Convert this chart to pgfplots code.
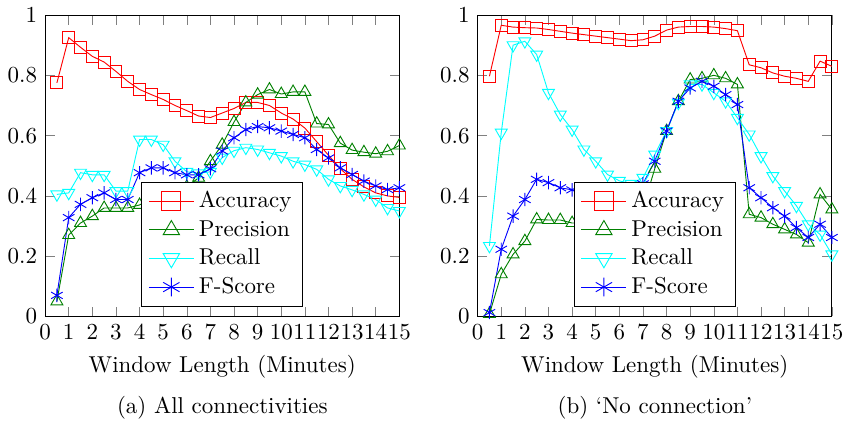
\documentclass[border=0pt]{standalone}
\usepackage{pgfplots}
\pgfplotsset{compat=1.18}

\definecolor{accred}{rgb}{1,0,0}
\definecolor{precgreen}{rgb}{0,0.5,0}
\definecolor{reccyan}{rgb}{0,1,1}
\definecolor{fblue}{rgb}{0,0,1}

\pgfplotsset{
  winaxis/.style={
    scale only axis,
    width=154.3pt, height=131.3pt,
    xmin=0, xmax=15, ymin=0, ymax=1,
    xtick={0,1,...,15},
    ytick={0,0.2,0.4,0.6,0.8,1},
    xlabel={Window Length (Minutes)},
    legend style={at={(0.5,0.033)}, anchor=south},
    legend cell align=left,
    legend image code/.code={%
      \draw[mark repeat=2, mark phase=2, #1, mark size=4.1pt]
        plot coordinates {(0pt,0pt) (9.8pt,0pt) (19.6pt,0pt)};},
  },
  acc/.style={accred, mark=square, mark size=2.6pt},
  prec/.style={precgreen, mark=triangle, mark size=3pt},
  rec/.style={reccyan, mark=triangle, mark size=3pt, mark options={rotate=180}},
  fsc/.style={fblue, mark=asterisk, mark size=2.9pt},
}

\begin{document}
\begin{tikzpicture}
% (a) all connectivities
\begin{axis}[winaxis]
\addplot[acc] coordinates {(0.5,0.775)(1,0.925)(1.5,0.893)(2,0.863)(2.5,0.844)(3,0.813)(3.5,0.78)(4,0.753)(4.5,0.736)(5,0.72)(5.5,0.70)(6,0.683)(6.5,0.665)(7,0.66)(7.5,0.675)(8,0.69)(8.5,0.71)(9,0.71)(9.5,0.70)(10,0.675)(10.5,0.655)(11,0.625)(11.5,0.58)(12,0.535)(12.5,0.49)(13,0.455)(13.5,0.43)(14,0.41)(14.5,0.40)(15,0.395)};
\addplot[prec] coordinates {(0.5,0.05)(1,0.27)(1.5,0.31)(2,0.333)(2.5,0.36)(3,0.36)(3.5,0.36)(4,0.37)(4.5,0.39)(5,0.41)(5.5,0.42)(6,0.43)(6.5,0.46)(7,0.515)(7.5,0.57)(8,0.645)(8.5,0.71)(9,0.736)(9.5,0.753)(10,0.738)(10.5,0.745)(11,0.745)(11.5,0.64)(12,0.637)(12.5,0.575)(13,0.552)(13.5,0.545)(14,0.54)(14.5,0.548)(15,0.567)};
\addplot[rec] coordinates {(0.5,0.405)(1,0.41)(1.5,0.477)(2,0.47)(2.5,0.47)(3,0.416)(3.5,0.416)(4,0.587)(4.5,0.587)(5,0.57)(5.5,0.515)(6,0.48)(6.5,0.475)(7,0.48)(7.5,0.527)(8,0.55)(8.5,0.56)(9,0.554)(9.5,0.543)(10,0.532)(10.5,0.515)(11,0.504)(11.5,0.488)(12,0.455)(12.5,0.433)(13,0.42)(13.5,0.405)(14,0.388)(14.5,0.36)(15,0.35)};
\addplot[fsc] coordinates {(0.5,0.07)(1,0.328)(1.5,0.372)(2,0.394)(2.5,0.41)(3,0.388)(3.5,0.388)(4,0.477)(4.5,0.493)(5,0.493)(5.5,0.477)(6,0.47)(6.5,0.47)(7,0.49)(7.5,0.549)(8,0.593)(8.5,0.62)(9,0.63)(9.5,0.626)(10,0.615)(10.5,0.604)(11,0.593)(11.5,0.554)(12,0.526)(12.5,0.493)(13,0.471)(13.5,0.449)(14,0.433)(14.5,0.421)(15,0.427)};
\legend{Accuracy, Precision, Recall, F-Score}
\end{axis}

% (b) no connection
\begin{axis}[winaxis, at={(188.4pt,0pt)}]
\addplot[acc] coordinates {(0.5,0.797)(1,0.966)(1.5,0.96)(2,0.958)(2.5,0.957)(3,0.952)(3.5,0.946)(4,0.94)(4.5,0.935)(5,0.93)(5.5,0.925)(6,0.92)(6.5,0.915)(7,0.918)(7.5,0.93)(8,0.95)(8.5,0.96)(9,0.962)(9.5,0.962)(10,0.96)(10.5,0.955)(11,0.948)(11.5,0.835)(12,0.825)(12.5,0.808)(13,0.797)(13.5,0.79)(14,0.78)(14.5,0.847)(15,0.83)};
\addplot[prec] coordinates {(0.5,0.008)(1,0.14)(1.5,0.206)(2,0.25)(2.5,0.322)(3,0.32)(3.5,0.32)(4,0.31)(4.5,0.31)(5,0.31)(5.5,0.31)(6,0.31)(6.5,0.32)(7,0.36)(7.5,0.49)(8,0.615)(8.5,0.714)(9,0.786)(9.5,0.79)(10,0.80)(10.5,0.79)(11,0.77)(11.5,0.339)(12,0.328)(12.5,0.306)(13,0.289)(13.5,0.272)(14,0.245)(14.5,0.405)(15,0.355)};
\addplot[rec] coordinates {(0.5,0.234)(1,0.61)(1.5,0.90)(2,0.913)(2.5,0.869)(3,0.742)(3.5,0.67)(4,0.62)(4.5,0.554)(5,0.515)(5.5,0.471)(6,0.45)(6.5,0.44)(7,0.46)(7.5,0.537)(8,0.615)(8.5,0.709)(9,0.77)(9.5,0.77)(10,0.742)(10.5,0.714)(11,0.659)(11.5,0.604)(12,0.532)(12.5,0.466)(13,0.416)(13.5,0.367)(14,0.306)(14.5,0.272)(15,0.206)};
\addplot[fsc] coordinates {(0.5,0.013)(1,0.223)(1.5,0.333)(2,0.388)(2.5,0.455)(3,0.444)(3.5,0.427)(4,0.42)(4.5,0.41)(5,0.40)(5.5,0.40)(6,0.40)(6.5,0.41)(7,0.44)(7.5,0.515)(8,0.615)(8.5,0.714)(9,0.758)(9.5,0.78)(10,0.764)(10.5,0.736)(11,0.703)(11.5,0.427)(12,0.394)(12.5,0.361)(13,0.333)(13.5,0.295)(14,0.262)(14.5,0.306)(15,0.262)};
\legend{Accuracy, Precision, Recall, F-Score}
\end{axis}

\node at (77.2pt,-39.6pt) {(a) All connectivities};
\node at (265.6pt,-39.6pt) {(b) `No connection'};
\end{tikzpicture}
\end{document}
